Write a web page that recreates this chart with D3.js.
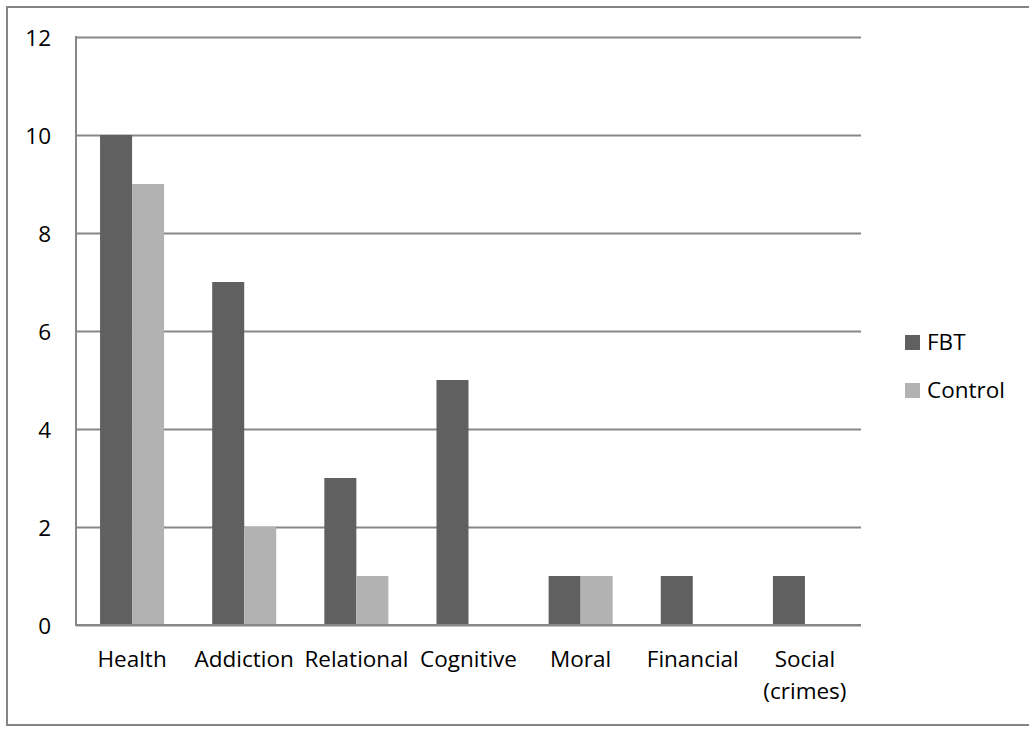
<!DOCTYPE html>
<html>
<head>
<meta charset="utf-8">
<script src="https://cdn.jsdelivr.net/npm/d3@7"></script>
<style>
  html, body { margin: 0; padding: 0; background: #fff; }
  svg { display: block; }
  text { font-family: "Open Sans", "Noto Sans", sans-serif; fill: #000; }
</style>
</head>
<body>
<svg id="chart" width="1029" height="730"></svg>
<script>
// Outcome domains and counts per group
const categories = ["Health", "Addiction", "Relational", "Cognitive", "Moral", "Financial", "Social (crimes)"];
const seriesNames = ["FBT", "Control"];
const fbtValues = [10, 7, 3, 5, 1, 1, 1];
const controlValues = [9, 2, 1, 0, 1, 0, 0];
const yTicks = [0, 2, 4, 6, 8, 10, 12];
const seriesColors = ["#606060", "#b2b2b2"];

const seriesValues = [fbtValues, controlValues];
const rows = categories.map((c, i) => ({
  category: c,
  values: seriesNames.map((s, j) => ({ series: s, value: seriesValues[j][i] }))
}));

const svg = d3.select("#chart");
const plot = { left: 76, right: 861, top: 37, bottom: 625 };
const gridColor = "#878787";
const fontSize = 22.5;

// Outer chart frame
svg.append("rect")
  .attr("x", 7).attr("y", 7)
  .attr("width", 1040).attr("height", 718)
  .attr("fill", "none")
  .attr("stroke", "#858585")
  .attr("stroke-width", 2);

const y = d3.scaleLinear().domain([0, 12]).range([plot.bottom, plot.top]);
const x0 = d3.scaleBand()
  .domain(categories)
  .range([plot.left, plot.right])
  .paddingInner(0.429)
  .paddingOuter(0.2145);
const x1 = d3.scaleBand()
  .domain(seriesNames)
  .range([0, x0.bandwidth()]);
const color = d3.scaleOrdinal().domain(seriesNames).range(seriesColors);

// Horizontal gridlines
const yAxis = d3.axisLeft(y)
  .tickValues(yTicks)
  .tickSize(-(plot.right - plot.left))
  .tickPadding(25)
  .tickFormat(d3.format("d"));

const gy = svg.append("g")
  .attr("transform", `translate(${plot.left},0)`)
  .call(yAxis);
gy.select(".domain").remove();
gy.selectAll(".tick line")
  .attr("stroke", gridColor)
  .attr("stroke-width", 2);
gy.selectAll(".tick text")
  .attr("font-size", fontSize)
  .attr("dy", "0.36em")
  .attr("fill", "#000");

// Bars
const groups = svg.append("g").selectAll("g")
  .data(rows)
  .join("g")
  .attr("transform", d => `translate(${x0(d.category)},0)`);

groups.selectAll("rect")
  .data(d => d.values.filter(v => v.value > 0))
  .join("rect")
  .attr("x", d => x1(d.series))
  .attr("y", d => y(d.value))
  .attr("width", x1.bandwidth())
  .attr("height", d => y(0) - y(d.value))
  .attr("fill", d => color(d.series));

// Left axis line and baseline
svg.append("line")
  .attr("x1", plot.left).attr("x2", plot.left)
  .attr("y1", plot.top - 1).attr("y2", plot.bottom + 1)
  .attr("stroke", gridColor).attr("stroke-width", 2);
svg.append("line")
  .attr("x1", plot.left - 1).attr("x2", plot.right)
  .attr("y1", plot.bottom).attr("y2", plot.bottom)
  .attr("stroke", gridColor).attr("stroke-width", 2);

// Category labels, wrapped when wider than a band step
const xAxis = d3.axisBottom(x0).tickSize(0).tickPadding(0);
const gx = svg.append("g")
  .attr("transform", `translate(0,${plot.bottom})`)
  .call(xAxis);
gx.select(".domain").remove();
gx.selectAll(".tick text")
  .attr("font-size", fontSize)
  .attr("fill", "#000")
  .attr("dy", null)
  .attr("y", 42)
  .each(function(d) {
    const t = d3.select(this);
    if (this.getComputedTextLength() > x0.step()) {
      const words = d.split(" ");
      t.text(null);
      words.forEach((w, i) => {
        t.append("tspan").attr("x", 0).attr("y", 42 + i * 32).text(w);
      });
    }
  });

// Legend
const legend = svg.append("g")
  .selectAll("g")
  .data(seriesNames)
  .join("g")
  .attr("transform", (d, i) => `translate(905,${335 + i * 48})`);
legend.append("rect")
  .attr("width", 15).attr("height", 15)
  .attr("fill", d => color(d));
legend.append("text")
  .attr("x", 22).attr("y", 15)
  .attr("font-size", fontSize)
  .text(d => d);
</script>
</body>
</html>
